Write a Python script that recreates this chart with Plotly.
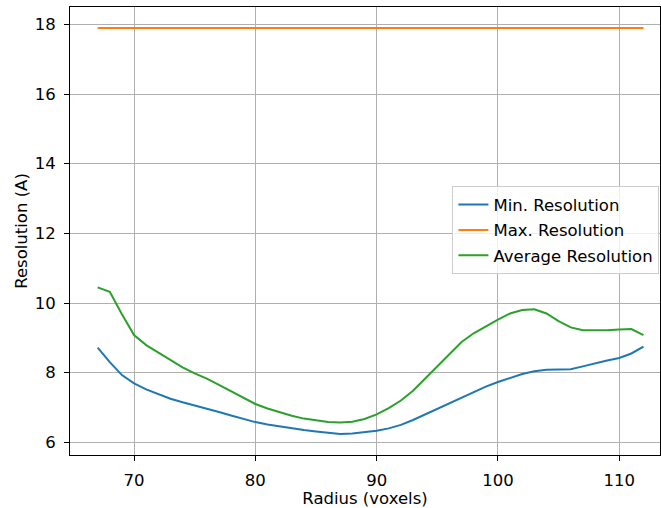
import plotly.graph_objects as go

radius = list(range(67, 113))

min_res = [8.72, 8.30, 7.93, 7.69, 7.52, 7.38, 7.25, 7.15, 7.06, 6.98,
           6.87, 6.77, 6.67, 6.58, 6.51, 6.45, 6.40, 6.35, 6.31, 6.27,
           6.24, 6.25, 6.28, 6.33, 6.40, 6.50, 6.64, 6.80, 6.97, 7.13,
           7.29, 7.45, 7.60, 7.73, 7.84, 7.96, 8.04, 8.08, 8.09, 8.10,
           8.18, 8.27, 8.35, 8.42, 8.55, 8.75]

max_res = [17.9] * len(radius)

avg_res = [10.45, 10.32, 9.68, 9.08, 8.79, 8.57, 8.36, 8.15, 7.98, 7.83,
           7.65, 7.46, 7.27, 7.10, 6.97, 6.86, 6.76, 6.68, 6.62, 6.58,
           6.57, 6.59, 6.67, 6.80, 6.98, 7.20, 7.48, 7.83, 8.18, 8.55,
           8.88, 9.13, 9.33, 9.52, 9.70, 9.80, 9.82, 9.70, 9.48, 9.30,
           9.22, 9.21, 9.22, 9.24, 9.25, 9.08]

x_ticks = [70, 80, 90, 100, 110]
y_ticks = [6, 8, 10, 12, 14, 16, 18]

series_names = ["Min. Resolution", "Max. Resolution", "Average Resolution"]
colors = ["#1f77b4", "#ff7f0e", "#2ca02c"]

fig = go.Figure()
for i, (name, vals) in enumerate(zip(series_names, [min_res, max_res, avg_res])):
    fig.add_trace(go.Scatter(x=radius, y=vals, mode="lines", name=name,
                             legendgroup=f"g{i}",
                             line=dict(color=colors[i], width=2)))

font = "DejaVu Sans, sans-serif"
fs = 16.5
axis_common = dict(showline=True, linecolor="black", linewidth=1, mirror=True,
                   ticks="outside", ticklen=5, tickcolor="black", tickwidth=1,
                   showgrid=True, gridcolor="#b0b0b0", gridwidth=1,
                   zeroline=False, automargin=False, ticklabelstandoff=5,
                   tickfont=dict(family=font, size=fs, color="black"))

fig.update_layout(
    width=661, height=508,
    margin=dict(l=70, r=1, t=7, b=53),
    plot_bgcolor="white", paper_bgcolor="white",
    font=dict(family=font, size=fs, color="black"),
    xaxis=dict(range=[64.72, 113.36], tickvals=x_ticks,
               title=dict(text="Radius (voxels)", font=dict(family=font, size=fs), standoff=6),
               **axis_common),
    yaxis=dict(range=[5.635, 18.50], tickvals=y_ticks,
               title=dict(text="Resolution (A)", font=dict(family=font, size=fs), standoff=2),
               **axis_common),
    legend=dict(x=0.999, xanchor="right", y=0.6, yanchor="top",
                bgcolor="rgba(255,255,255,0.8)", bordercolor="#cccccc", borderwidth=1,
                tracegroupgap=1, font=dict(family=font, size=fs, color="black")),
)

fig.write_html("out.html", config={"displayModeBar": False},
               post_script="document.body.style.margin='0';")
